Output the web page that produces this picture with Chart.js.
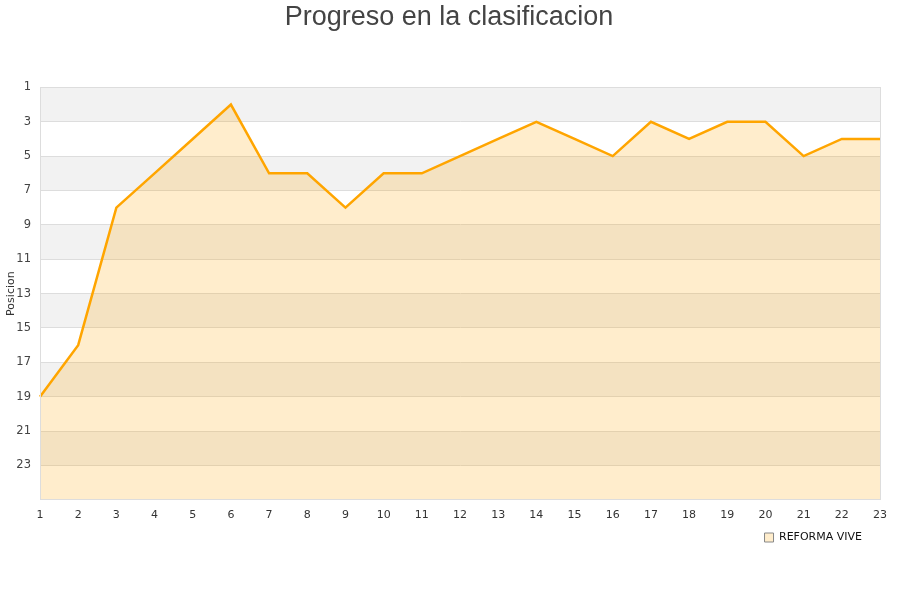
<!DOCTYPE html>
<html><head><meta charset="utf-8">
<script src="https://cdn.jsdelivr.net/npm/chart.js@4/dist/chart.umd.min.js"></script>
<style>html,body{margin:0;padding:0;background:#fff}#wrap{width:900px;height:600px}</style>
</head><body><div id="wrap"><canvas id="c"></canvas></div>
<script>
const jornadas = ['1','2','3','4','5','6','7','8','9','10','11','12','13','14','15','16','17','18','19','20','21','22','23'];
const posiciones = [19,16,8,6,4,2,6,6,8,6,6,5,4,3,4,5,3,4,3,3,5,4,4];
const serieNombre = 'REFORMA VIVE';
const tituloTexto = 'Progreso en la clasificacion';
const ejeYTexto = 'Posicion';

const bands = {
  id: 'bands',
  afterLayout(chart) {
    if (chart.legend) chart.legend.right -= 9;
    if (chart.titleBlock) { chart.titleBlock.left += 9; chart.titleBlock.right += 9; }
  },
  beforeDraw(chart) {
    const {ctx, chartArea: a, scales: {y}} = chart;
    ctx.save();
    ctx.fillStyle = '#f2f2f2';
    for (let v = 1; v < 25; v += 4) {
      const p1 = y.getPixelForValue(v), p2 = y.getPixelForValue(v + 2);
      ctx.fillRect(a.left, Math.min(p1,p2), a.right - a.left, Math.abs(p2 - p1));
    }
    ctx.restore();
  },
  afterDraw(chart) {
    const {ctx, chartArea: a} = chart;
    ctx.save();
    ctx.strokeStyle = '#dddddd';
    ctx.lineWidth = 1;
    ctx.strokeRect(Math.round(a.left)+0.5, Math.round(a.top)+0.5, Math.round(a.right-a.left), Math.round(a.bottom-a.top));
    ctx.restore();
  }
};

new Chart(document.getElementById('c'), {
  type: 'line',
  data: {
    labels: jornadas,
    datasets: [{
      label: serieNombre,
      data: posiciones,
      borderColor: '#FFA500',
      backgroundColor: 'rgba(255,165,0,0.2)',
      borderWidth: 2.5,
      pointRadius: 0,
      tension: 0,
      fill: 'start'
    }]
  },
  options: {
    responsive: true,
    maintainAspectRatio: false,
    animation: false,
    layout: {padding: {left: 0, right: 20, top: 1, bottom: 47}},
    plugins: {
      title: {display: true, text: tituloTexto, color: '#444444',
        font: {family: 'Liberation Sans', size: 27, weight: 'normal'},
        padding: {top: 0, bottom: 54}},
      legend: {position: 'bottom', align: 'end',
        labels: {boxWidth: 9, boxHeight: 9, color: '#111', font: {family: 'DejaVu Sans', size: 11}, padding: 9,
          generateLabels(chart) {
            const items = Chart.defaults.plugins.legend.labels.generateLabels(chart);
            items.forEach(it => { it.strokeStyle = '#888888'; it.lineWidth = 1; it.fillStyle = '#ffedcc'; });
            return items;
          }}},
      tooltip: {enabled: false}
    },
    scales: {
      x: {
        offset: false,
        grid: {display: false},
        border: {color: '#dddddd'},
        ticks: {color: '#333', font: {family: 'DejaVu Sans', size: 11}, maxRotation: 0, autoSkip: false, padding: 1}
      },
      y: {
        reverse: true, min: 1, max: 25,
        afterFit(scale) { scale.width = 40; },
        grid: {color: '#dddddd', drawTicks: false},
        border: {color: '#dddddd'},
        ticks: {stepSize: 2, color: '#444', font: {family: 'DejaVu Sans', size: 11.5}, padding: 9,
          callback: v => v === 25 ? '' : v},
        title: {display: true, text: ejeYTexto, color: '#333', font: {family: 'DejaVu Sans', size: 11}, padding: {top: 5, bottom: 0}}
      }
    }
  },
  plugins: [bands]
});
</script></body></html>
